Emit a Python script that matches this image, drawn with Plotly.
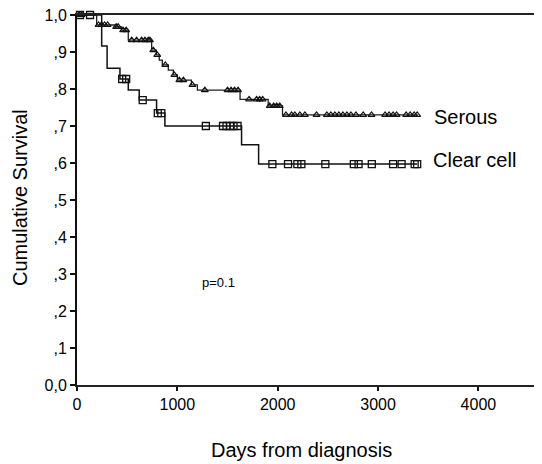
import plotly.graph_objects as go

# Kaplan-Meier step points (day, cumulative survival after the event)
serous_days = [0, 196, 378, 445, 511, 744, 790, 820, 850, 910, 960, 1000, 1140, 1200, 1625, 1905, 2048, 3395]
serous_surv = [1.0, 0.973, 0.968, 0.959, 0.932, 0.905, 0.892, 0.878, 0.865, 0.851, 0.838, 0.824, 0.811, 0.797, 0.772, 0.754, 0.730, 0.730]

clear_days = [0, 246, 300, 428, 511, 620, 793, 876, 1640, 1810, 3390]
clear_surv = [1.0, 0.916, 0.856, 0.827, 0.797, 0.770, 0.735, 0.700, 0.649, 0.597, 0.597]

# censored cases
serous_cens = [20, 45, 215, 245, 275, 305, 390, 410, 460, 490, 545, 594, 644, 677, 710, 727,
               760, 800, 880, 970, 1020, 1060, 1150, 1274, 1500, 1535, 1570, 1605,
               1715, 1790, 1820, 1850, 1920, 1960, 1990, 2020,
               2082, 2138, 2171, 2221, 2271, 2387, 2490, 2530, 2570, 2610, 2650, 2690, 2730, 2780,
               2852, 2935, 3070, 3110, 3150, 3185, 3280, 3320, 3360, 3390]
clear_cens = [30, 130, 450, 490, 655, 805, 840, 1284, 1455, 1490, 1525, 1560, 1600,
              1947, 2103, 2196, 2236, 2475, 2759, 2806, 2938, 3150, 3235, 3365, 3390]

yticks = [0, 0.1, 0.2, 0.3, 0.4, 0.5, 0.6, 0.7, 0.8, 0.9, 1.0]
ylabels = ["0,0", ",1", ",2", ",3", ",4", ",5", ",6", ",7", ",8", ",9", "1,0"]
xticks = [0, 1000, 2000, 3000, 4000]


def surv_at(days, surv, t):
    s = surv[0]
    for d, v in zip(days, surv):
        if d <= t:
            s = v
    return s


FONT = "Liberation Sans, Arial, sans-serif"

fig = go.Figure()
fig.add_trace(go.Scatter(x=serous_days, y=serous_surv, mode="lines", line_shape="hv",
                         line=dict(color="#222", width=1.3), cliponaxis=False))
fig.add_trace(go.Scatter(x=clear_days, y=clear_surv, mode="lines", line_shape="hv",
                         line=dict(color="#111", width=1.5), cliponaxis=False))
fig.add_trace(go.Scatter(x=serous_cens, y=[surv_at(serous_days, serous_surv, t) for t in serous_cens],
                         mode="markers", cliponaxis=False,
                         marker=dict(symbol="triangle-up-open", size=6, color="#111",
                                     line=dict(width=1.2, color="#111"))))
fig.add_trace(go.Scatter(x=clear_cens, y=[surv_at(clear_days, clear_surv, t) for t in clear_cens],
                         mode="markers", cliponaxis=False,
                         marker=dict(symbol="square-open", size=7, color="#111",
                                     line=dict(width=1.3, color="#111"))))

fig.add_annotation(x=3536, y=0.724, text="Serous", showarrow=False, xanchor="left",
                   font=dict(size=20, color="black", family=FONT))
fig.add_annotation(x=3530, y=0.608, text="Clear cell", showarrow=False, xanchor="left",
                   font=dict(size=20, color="black", family=FONT))
fig.add_annotation(x=1225, y=0.278, text="p=0.1", showarrow=False, xanchor="left",
                   font=dict(size=13, color="black", family=FONT))
fig.add_annotation(xref="paper", yref="paper", x=-0.1226, y=0.508, text="Cumulative Survival",
                   textangle=-90, showarrow=False, xanchor="center", yanchor="middle",
                   font=dict(size=20, color="black", family=FONT))
fig.add_annotation(xref="paper", yref="paper", x=0.482, y=-0.176, text="Days from diagnosis",
                   showarrow=False, xanchor="center", yanchor="middle",
                   font=dict(size=20, color="black", family=FONT))

# page body has an 8px margin, so the figure is made smaller to fit the window
fig.update_layout(
    width=534, height=456,
    margin=dict(l=69, r=0, t=7, b=79, autoexpand=False),
    paper_bgcolor="white", plot_bgcolor="white",
    showlegend=False,
    font=dict(family=FONT, color="black"),
    xaxis=dict(range=[0, 4634], tickvals=xticks, ticks="outside", ticklen=4, tickwidth=2,
               tickcolor="#111", showline=True, linecolor="#222", linewidth=2, mirror=True,
               showgrid=False, zeroline=False, tickfont=dict(size=16), ticklabeloverflow="allow"),
    yaxis=dict(range=[0, 1], tickvals=yticks, ticktext=ylabels, ticks="outside", ticklen=5,
               tickwidth=2, tickcolor="#111", showline=True, linecolor="#111", linewidth=2,
               showgrid=False, zeroline=False, tickfont=dict(size=16), ticklabeloverflow="allow"),
)

fig.write_html("out.html")
